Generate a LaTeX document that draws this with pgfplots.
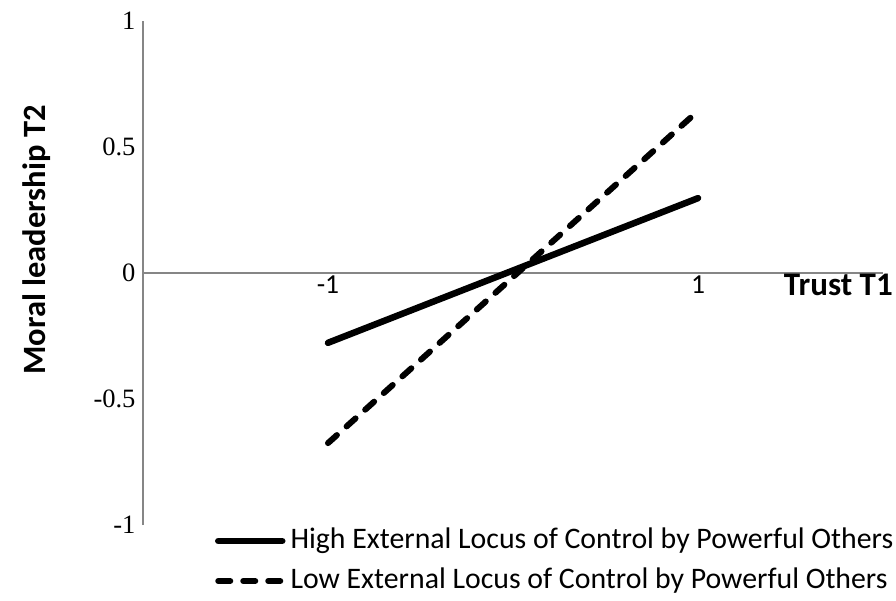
\documentclass[border=0pt]{standalone}
\usepackage{fontspec}
\setmainfont{Carlito}
\newfontfamily\timesf{Liberation Serif}
\usepackage{pgfplots}
\pgfplotsset{compat=1.18}
\definecolor{axgray}{RGB}{134,134,134}
\begin{document}
\begin{tikzpicture}[x=1pt,y=1pt]
\path[use as bounding box] (0,0) rectangle (896,600);
\begin{axis}[
  at={(143pt,75pt)}, anchor=south west,
  scale only axis, width=740pt, height=504pt,
  xmin=-2, xmax=2, ymin=-1, ymax=1,
  axis x line=middle, axis y line=left,
  axis line style={draw=axgray, line width=1.8pt, -},
  every inner x axis line/.append style={-},
  every outer y axis line/.append style={-},
  hide obscured x ticks=false, hide obscured y ticks=false,
  xtick={-1,1}, xticklabels={-1,1},
  ytick={-1,-0.5,0,0.5,1}, yticklabels={-1,-0.5,0,0.5,1},
  major tick length=0pt,
  xticklabel style={font=\fontsize{27.5}{32}\selectfont, anchor=center, yshift=-12pt},
  yticklabel style={font=\timesf\fontsize{26.5}{31}\selectfont, anchor=east, xshift=-4pt},
  xlabel={Trust T1},
  xlabel style={at={(axis description cs:1.0135,0.4762)}, anchor=east, inner sep=0pt,
    font=\bfseries\fontsize{33}{40}\selectfont},
  ylabel={Moral leadership T2},
  ylabel style={at={(axis description cs:-0.1435,0.5655)}, anchor=center, inner sep=0pt,
    font=\bfseries\fontsize{32.5}{40}\selectfont},
  legend style={at={(axis description cs:0.0973,-0.005)}, anchor=north west,
    draw=none, fill=none, inner sep=0pt, outer sep=0pt,
    row sep=13pt, column sep=5pt,
    nodes={inner sep=0pt, text height=21pt, text depth=6pt,
      font=\fontsize{29.8}{35}\selectfont}},
  legend cell align=left,
  legend image code/.code={\path[draw=none,fill=none] (0pt,-5pt) rectangle (70pt,5pt);
    \draw[#1] (3pt,0pt) -- (67pt,0pt);},
  clip=false,
]
\addplot[black, line width=6.5pt, line cap=round] coordinates {(-1,-0.277) (1,0.297)};
\addlegendentry{High External Locus of Control by Powerful Others}
\addplot[black, line width=6pt, line cap=round, dash pattern=on 12pt off 13pt] coordinates {(-1,-0.675) (1,0.643)};
\addlegendentry{Low External Locus of Control by Powerful Others}
\end{axis}
\end{tikzpicture}
\end{document}
